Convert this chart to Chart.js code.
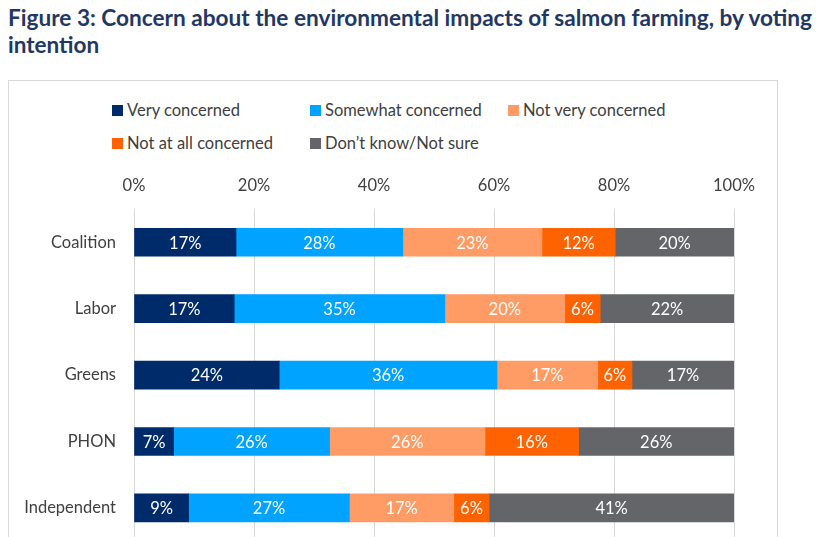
<!DOCTYPE html>
<html>
<head>
<meta charset="utf-8">
<script src="https://cdn.jsdelivr.net/npm/chart.js@4/dist/chart.umd.min.js"></script>
<style>
  html, body { margin: 0; padding: 0; background: #fff; }
  body { width: 816px; height: 537px; overflow: hidden; position: relative; font-family: Lato, "Open Sans", sans-serif; }
  #title { position: absolute; left: 8px; top: 4px; color: #1F3864; font-weight: bold; font-size: 22.5px; line-height: 27px; white-space: nowrap; }
  #title span { display: inline-block; transform-origin: 0 50%; }
  #box { position: absolute; left: 8px; top: 80px; width: 770px; height: 480px; border: 1.5px solid #d9d9d9; box-sizing: border-box; }
  #legend { position: absolute; left: 0; top: 0; }
  .li { position: absolute; height: 20px; display: flex; align-items: center; font-size: 16.5px; color: #404040; white-space: nowrap; }
  .li i { display: inline-block; width: 11px; height: 11px; margin-right: 4px; }
  #c { position: absolute; left: 9px; top: 160px; }
</style>
</head>
<body>
<div id="title"><span id="t1">Figure 3: Concern about the environmental impacts of salmon farming, by voting</span><br><span id="t2">intention</span></div>
<div id="box"></div>
<div id="legend"></div>
<canvas id="c" width="769" height="409"></canvas>
<script>
const categories = ['Coalition', 'Labor', 'Greens', 'PHON', 'Independent'];
const seriesNames = ['Very concerned', 'Somewhat concerned', 'Not very concerned', 'Not at all concerned', 'Don\u2019t know/Not sure'];
const veryConcerned     = [17.0, 16.7, 24.2,  6.6,  9.1];
const somewhatConcerned = [27.8, 35.1, 36.3, 26.0, 26.8];
const notVeryConcerned  = [23.2, 20.0, 16.8, 25.9, 17.4];
const notAtAllConcerned = [12.2,  5.9,  5.7, 15.6,  5.9];
const dontKnow          = [19.8, 22.3, 17.0, 25.9, 40.8];
const tickValues = [0, 20, 40, 60, 80, 100];
const colors = ['#002B6B', '#00A3FF', '#FF9B65', '#FF6200', '#636569'];

// fit title line 1 to reference width
const t1 = document.getElementById('t1');
const w = t1.getBoundingClientRect().width;
t1.style.transform = 'scaleX(' + (804 / w) + ')';

// legend (fixed column grid like the reference)
const legendPos = [[112, 110], [310, 110], [508, 110], [112, 143], [310, 143]];
const legend = document.getElementById('legend');
seriesNames.forEach((n, i) => {
  const d = document.createElement('div');
  d.className = 'li';
  d.style.left = legendPos[i][0] + 'px';
  d.style.top = (legendPos[i][1] - 10) + 'px';
  d.innerHTML = '<i style="background:' + colors[i] + '"></i><span></span>';
  d.querySelector('span').textContent = n;
  legend.appendChild(d);
});

const allSeries = [veryConcerned, somewhatConcerned, notVeryConcerned, notAtAllConcerned, dontKnow];

const labelPlugin = {
  id: 'segLabels',
  afterDatasetsDraw(chart) {
    const ctx = chart.ctx;
    ctx.save();
    ctx.font = '16.5px Lato, "Open Sans", sans-serif';
    ctx.fillStyle = '#ffffff';
    ctx.textAlign = 'center';
    ctx.textBaseline = 'middle';
    chart.data.datasets.forEach((ds, di) => {
      const meta = chart.getDatasetMeta(di);
      meta.data.forEach((el, i) => {
        const v = ds.data[i];
        const cx = (el.x + el.base) / 2;
        ctx.fillText(Math.round(v) + '%', cx, el.y + 1);
      });
    });
    ctx.restore();
  }
};

new Chart(document.getElementById('c'), {
  type: 'bar',
  data: {
    labels: categories,
    datasets: allSeries.map((d, i) => ({
      label: seriesNames[i],
      data: d,
      backgroundColor: colors[i],
      borderWidth: 0,
      barThickness: 28
    }))
  },
  options: {
    indexAxis: 'y',
    responsive: false,
    animation: false,
    layout: { padding: { left: 0, right: 44, top: 0, bottom: 0 } },
    plugins: { legend: { display: false }, tooltip: { enabled: false } },
    scales: {
      x: {
        stacked: true,
        position: 'top',
        min: 0, max: 100,
        afterBuildTicks(scale) { scale.ticks = tickValues.map(v => ({ value: v })); },
        afterFit(scale) { scale.height = 49; },
        ticks: {
          callback: v => v + '%',
          color: '#404040',
          font: { family: 'Lato, "Open Sans", sans-serif', size: 16.5 },
          padding: 13,
          maxRotation: 0
        },
        grid: { color: '#d9d9d9', lineWidth: 1, drawTicks: false },
        border: { display: false }
      },
      y: {
        stacked: true,
        afterFit(scale) { scale.width = 125; },
        ticks: {
          color: '#404040',
          font: { family: 'Lato, "Open Sans", sans-serif', size: 16.5 },
          padding: 18
        },
        grid: { display: false, drawTicks: false },
        border: { display: false }
      }
    }
  },
  plugins: [labelPlugin]
});
</script>
</body>
</html>
